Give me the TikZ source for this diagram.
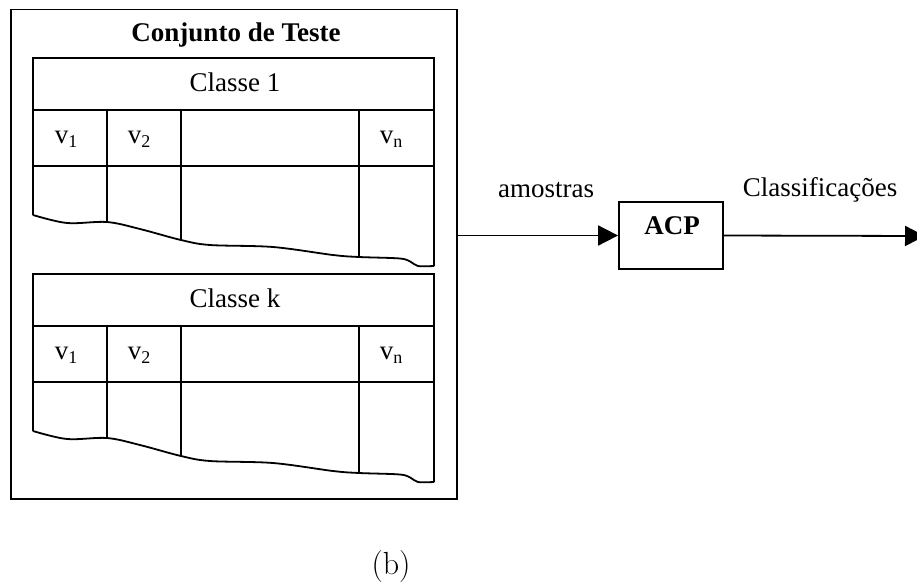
\documentclass[tikz,border=0pt]{standalone}
\usepackage{fontspec}
\newfontfamily\tnr{Liberation Serif}
\usetikzlibrary{arrows.meta}
\newcommand{\vsub}[1]{v\raisebox{-0.35ex}{\fontsize{18}{20}\selectfont #1}}
\begin{document}
\begin{tikzpicture}[x=1pt,y=-1pt,
  ln/.style={line width=1.8pt,black},
  txt/.style={font=\tnr\fontsize{27}{30}\selectfont, inner sep=0pt},
  btxt/.style={font=\tnr\bfseries\fontsize{27}{30}\selectfont, inner sep=0pt},
  arr/.style={ln,-{Triangle[length=20pt,width=20pt]}},
  boxn/.style={draw,ln,inner sep=0pt}]
\useasboundingbox (0,0) rectangle (917,587);
\clip (0,0) rectangle (917,587);
% outer box
\node[boxn, minimum width=446pt, minimum height=489.5pt] (teste) at (234,254.25) {};
\node[btxt] (title) at (236,35) {Conjunto de Teste};
% tables
\foreach \dy/\lab/\nm in {0/Classe 1/c1, 216/Classe k/ck}{
  \begin{scope}[yshift=-\dy pt]
    \draw[ln] (33,215) -- (33,58) -- (434,58) -- (434,266)
      plot[smooth,tension=0.55] coordinates {(434,266) (418,266) (411,262) (400,258.5) (359,257) (333,255) (273,247) (210,245) (181,240) (140,229) (107,222) (67,223) (33,215)};
    \draw[ln] (33,110) -- (434,110);
    \draw[ln] (33,166) -- (434,166);
    \draw[ln] (107,110) -- (107,222);
    \draw[ln] (181,110) -- (181,240);
    \draw[ln] (359,110) -- (359,257);
    \node[txt] (\nm) at (235,82) {\lab};
    \node[txt] (\nm v1) at (66,139) {\vsub{1}};
    \node[txt] (\nm v2) at (139,139) {\vsub{2}};
    \node[txt] (\nm vn) at (391,139) {\vsub{n}};
  \end{scope}
}
% ACP
\node[boxn, minimum width=104pt, minimum height=67pt] (acp) at (671,235.5) {};
\node[btxt] (acplab) at (672,226) {ACP};
\coordinate (out) at (925,236);
\draw[arr] (acp.west -| teste.east) -- (acp.west);
\draw[arr] (acp.east) -- (out);
\node[txt] (amostras) at (546,190) {amostras};
\node[txt] (classif) at (820,190) {Classificações};
\node[font=\fontsize{32}{36}\selectfont, inner sep=0pt] (b) at (391,567) {(b)};
\end{tikzpicture}
\end{document}
